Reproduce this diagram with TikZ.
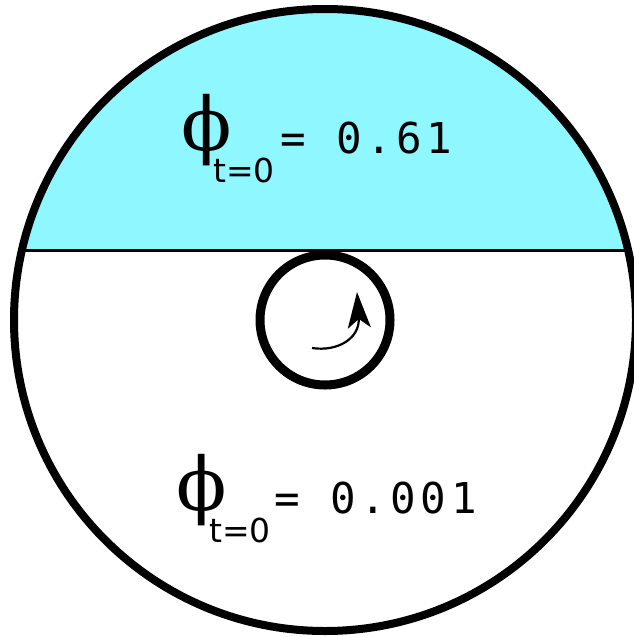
\documentclass[tikz,border=0pt]{standalone}
\usepackage{fontspec}
\usetikzlibrary{arrows.meta}
\newfontfamily\phifont{DejaVu Serif}
\newfontfamily\subfont{DejaVu Sans}
\newfontfamily\valfont[LetterSpace=11]{DejaVu Sans Mono}
\definecolor{fillcyan}{RGB}{142,247,255}
\tikzset{
  phitext/.style={anchor=base west, inner sep=0pt, font=\phifont\fontsize{74}{76}\selectfont},
  subtext/.style={anchor=base west, inner sep=0pt, font=\subfont\fontsize{33}{36}\selectfont},
  valtext/.style={anchor=base west, inner sep=0pt, font=\valfont\fontsize{42.5}{48}\selectfont},
}
\begin{document}
\begin{tikzpicture}[x=1pt,y=-1pt]
\useasboundingbox (0,0) rectangle (633,637);
\coordinate (c) at (325,320);
\begin{scope}
  \clip (c) circle[radius=311pt];
  \fill[fillcyan] (0,0) rectangle (660,250);
\end{scope}
\draw[line width=3pt] (0,250) -- (660,250);
\begin{scope}[even odd rule]
  \fill[white] (-20,-20) rectangle (700,700) (c) circle[radius=311pt];
\end{scope}
\draw[line width=8pt] (c) circle[radius=311pt];
\draw[line width=9pt, fill=white] (c) circle[radius=65pt];
\coordinate (a0) at (312,348);
\coordinate (a1) at (357,292);
\draw[line width=2.2pt, -{Stealth[length=36pt,width=23pt,inset=9pt]}]
  (a0) .. controls (338,352) and (360,338) .. (a1);
% top label
\node[phitext] (p1) at (181,150) {\symbol{"03D5}};
\node[subtext] (s1) at (213,182) {t=0};
\node[valtext] (v1) at (280,153) {= 0.61};
% bottom label
\node[phitext] (p2) at (176,510) {\symbol{"03D5}};
\node[subtext] (s2) at (209,542) {t=0};
\node[valtext] (v2) at (274,513) {= 0.001};
\end{tikzpicture}
\end{document}
